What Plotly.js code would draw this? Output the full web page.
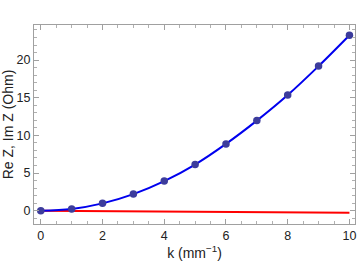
<!DOCTYPE html>
<html><head><meta charset="utf-8">
<script src="https://cdn.plot.ly/plotly-3.0.1.min.js"></script>
<style>html,body{margin:0;padding:0;background:#fff}</style>
</head><body><div id="chart" style="width:359px;height:270px"></div>
<script>
const k = [0, 1, 2, 3, 4, 5, 6, 7, 8, 9, 10];
const reZ = [0, 0.23, 0.97, 2.2, 3.93, 6.13, 8.87, 11.96, 15.36, 19.2, 23.3];
const imZ = [0, -0.03, -0.05, -0.08, -0.11, -0.14, -0.16, -0.19, -0.22, -0.24, -0.27];
const xTicks = [0, 2, 4, 6, 8, 10];
const yTicks = [0, 5, 10, 15, 20];

const FONT = 'Liberation Sans, Arial, sans-serif';
const traces = [
  {x: k, y: imZ, mode: 'lines', line: {color: '#ff0000', width: 2}, hoverinfo: 'skip'},
  {x: k, y: reZ, mode: 'lines', line: {color: '#0000ee', width: 2, shape: 'spline'}, hoverinfo: 'skip'},
  {x: k, y: reZ, mode: 'markers', marker: {color: '#3c3c9c', size: 7.5}}
];
const ax = {
  showgrid: false, zeroline: false, showline: true, linecolor: '#a0a0a0', linewidth: 1,
  mirror: 'allticks', ticks: 'inside', ticklen: 5, tickcolor: '#a0a0a0', tickwidth: 1,
  tickfont: {family: FONT, size: 12.5, color: '#222'}
};
const layout = {
  width: 359, height: 270,
  margin: {l: 34, r: 4, t: 25, b: 46},
  showlegend: false,
  paper_bgcolor: '#fff', plot_bgcolor: '#fff',
  xaxis: Object.assign({}, ax, {
    range: [-0.22, 10.18], tickvals: xTicks, ticktext: xTicks.map(String),
    minor: {dtick: 0.5, tick0: 0, ticklen: 3, tickcolor: '#b0b0b0', ticks: 'inside'},
    title: {text: 'k (mm<sup>−1</sup>)', font: {family: FONT, size: 14, color: '#222'}, standoff: 6}
  }),
  yaxis: Object.assign({}, ax, {
    range: [-1.77, 24.66], tickvals: yTicks, ticktext: yTicks.map(String),
    minor: {dtick: 1, tick0: 0, ticklen: 3, tickcolor: '#b0b0b0', ticks: 'inside'},
    title: {text: 'Re Z, Im Z (Ohm)', font: {family: FONT, size: 14, color: '#222'}, standoff: 2}
  })
};
Plotly.newPlot('chart', traces, layout, {displayModeBar: false, staticPlot: true});
</script></body></html>
